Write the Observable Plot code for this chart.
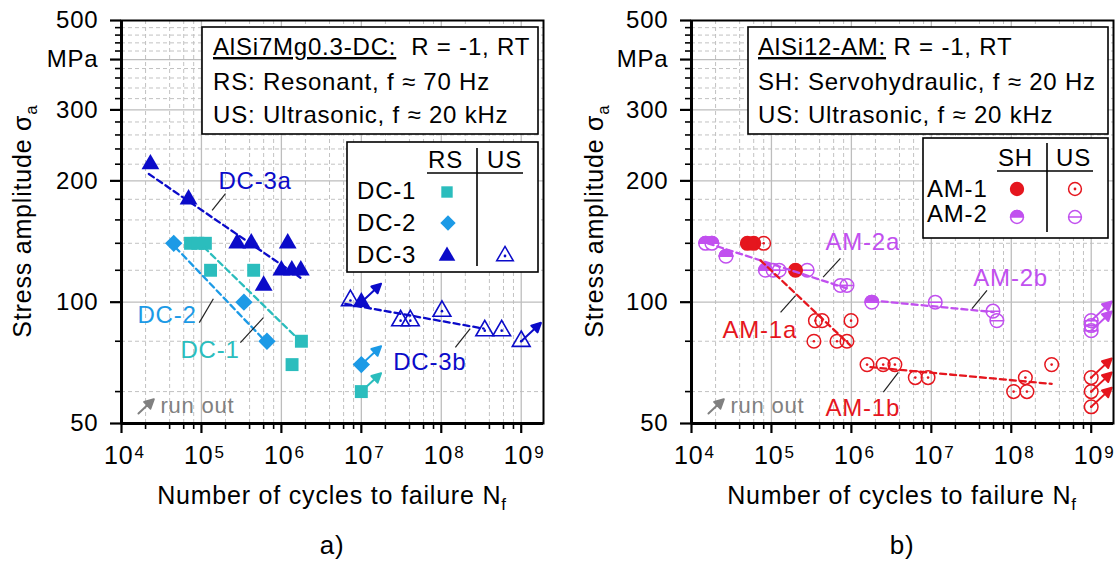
<!DOCTYPE html>
<html><head><meta charset="utf-8">
<script src="https://cdn.jsdelivr.net/npm/d3@7"></script>
<script src="https://cdn.jsdelivr.net/npm/@observablehq/plot@0.6"></script>
<style>
body{margin:0;background:#fff;}
#wrap{position:relative;width:1119px;height:573px;overflow:hidden;background:#fff;}
#wrap svg{position:absolute;top:0;}
</style></head><body><div id="wrap"></div>
<script>
// ---------- colours ----------
const TEAL = "#2bbdbd", AZURE = "#1c9ae6", BLUE = "#0b0bc9", RED = "#e5161e", PURPLE = "#c150ef", GRAY = "#808080";

// ---------- axis ticks ----------
const X_DOMAIN = [1e4, 1.9e9];
const Y_DOMAIN = [50, 500];
const DECADES = [1e4, 1e5, 1e6, 1e7, 1e8, 1e9];
const MINOR_MULT = [2, 4, 6, 8];
const Y_MAJOR = [50, 100, 200, 300, 400, 500];
const Y_GRID_SOLID = [100, 200, 300, 400];
const Y_MINOR = [60, 80, 120, 140, 160, 180, 220, 240, 260, 280, 320, 340, 360, 380, 420, 440, 460, 480];
const Y_LABELS = {400: "MPa"};

// ---------- a) AlSi7Mg0.3-DC ----------
const DC1_RS = [{N:7.3e4,s:140},{N:9.0e4,s:140},{N:1.12e5,s:140},{N:1.3e5,s:120},{N:4.5e5,s:120},{N:1.36e6,s:70},{N:1.78e6,s:80}];
const DC1_RS_RUNOUT = [{N:1e7,s:60}];
const DC2_RS = [{N:4.5e4,s:140},{N:3.4e5,s:100},{N:6.6e5,s:80}];
const DC2_RS_RUNOUT = [{N:1e7,s:70}];
const DC3_RS = [{N:2.3e4,s:220},{N:6.9e4,s:180},{N:2.8e5,s:140},{N:4.2e5,s:140},{N:1.2e6,s:140},{N:6.0e5,s:110},{N:1.0e6,s:120},{N:1.35e6,s:120},{N:1.75e6,s:120}];
const DC3_RS_RUNOUT = [{N:1e7,s:100}];
const DC3_US = [{N:7.3e6,s:101},{N:3.1e7,s:90},{N:4.1e7,s:90},{N:1.02e8,s:95},{N:3.5e8,s:85},{N:5.7e8,s:85}];
const DC3_US_RUNOUT = [{N:1e9,s:80}];
const FIT_DC3a = [{N:2.2e4,s:208},{N:1.73e6,s:115}];
const FIT_DC2 = [{N:4.7e4,s:137},{N:6.3e5,s:80}];
const FIT_DC1 = [{N:1.07e5,s:137},{N:1.73e6,s:80}];
const FIT_DC3b = [{N:6.3e6,s:99},{N:3.4e8,s:86}];
const LABELS_A = [
  {t:"DC-3a", N:1.63e5, s:191, c:BLUE},
  {t:"DC-2", N:1.58e4, s:89, c:AZURE},
  {t:"DC-1", N:5.46e4, s:72.5, c:TEAL},
  {t:"DC-3b", N:2.5e7, s:67.7, c:BLUE}
];
const LEADERS_A = [
  {N1:2.0e5,s1:186,N2:1.36e5,s2:169},
  {N1:9.4e4,s1:89,N2:1.41e5,s2:102},
  {N1:3.07e5,s1:79.4,N2:5.96e5,s2:91.6},
  {N1:1.5e8,s1:77.2,N2:2.3e8,s2:86}
];

// ---------- b) AlSi12-AM ----------
const AM1_SH = [{N:5.0e4,s:140},{N:6.0e4,s:140},{N:2.0e5,s:120}];
const AM1_US = [{N:8.0e4,s:140},{N:3.4e5,s:80},{N:3.55e5,s:90},{N:4.3e5,s:90},{N:6.6e5,s:80},{N:8.8e5,s:80},{N:9.9e5,s:90},{N:1.57e6,s:70},{N:2.5e6,s:70},{N:3.5e6,s:70},{N:6.3e6,s:65},{N:9.1e6,s:65},{N:1.07e8,s:60},{N:1.5e8,s:65},{N:1.57e8,s:60},{N:3.2e8,s:70}];
const AM1_US_RUNOUT = [{N:1e9,s:65},{N:1e9,s:60},{N:1e9,s:55}];
const AM2_SH = [{N:1.5e4,s:140},{N:1.8e4,s:140},{N:2.7e4,s:130},{N:8.4e4,s:120},{N:1.8e6,s:100}];
const AM2_US = [{N:1.05e5,s:120},{N:1.25e5,s:120},{N:2.8e5,s:120},{N:7.3e5,s:110},{N:8.8e5,s:110},{N:1.12e7,s:100},{N:5.9e7,s:95},{N:6.6e7,s:90}];
const AM2_US_RUNOUT = [{N:1e9,s:90},{N:1e9,s:87.5},{N:1e9,s:85}];
const AM2_US_ARROWS = [{N:1e9,s:90},{N:1e9,s:85}];
const FIT_AM1a = [{N:7.3e4,s:127},{N:9.8e5,s:78}];
const FIT_AM1b = [{N:1.73e6,s:69},{N:3.2e8,s:62.7}];
const FIT_AM2a = [{N:1.6e4,s:140},{N:9.0e5,s:108}];
const FIT_AM2b = [{N:1.8e6,s:101},{N:6.0e7,s:94.5}];
const LABELS_B = [
  {t:"AM-2a", N:4.73e5, s:135, c:PURPLE},
  {t:"AM-1a", N:2.44e4, s:81.3, c:RED},
  {t:"AM-2b", N:3.35e7, s:110, c:PURPLE},
  {t:"AM-1b", N:4.73e5, s:52.3, c:RED}
];
const LEADERS_B = [
  {N1:7.29e5,s1:128.4,N2:4.43e5,s2:115.4},
  {N1:1.3e5,s1:94.3,N2:2e5,s2:103.8},
  {N1:4.97e7,s1:107,N2:3.23e7,s2:96.4},
  {N1:3.87e6,s1:67,N2:2.51e6,s2:59.8}
];
const RUNOUT_KEY = [{t:"run out", N:3.07e4, s:53, aN:1.63e4, aS:52.95}];

// ---------- shapes ----------
const arrowShape = {draw(ctx, l) { const h = 9, w = 4.6; ctx.moveTo(0, 0); ctx.lineTo(0, -l + h); ctx.moveTo(0, -l); ctx.lineTo(-w, -l + h); ctx.lineTo(w, -l + h); ctx.closePath(); }};
const halfTop = {draw(ctx, size) { const r = Math.sqrt(size / Math.PI); ctx.moveTo(-r, 0); ctx.arc(0, 0, r, Math.PI, 2 * Math.PI); ctx.closePath(); }};
const thetaCircle = {draw(ctx, size) { const r = Math.sqrt(size / Math.PI); ctx.moveTo(r, 0); ctx.arc(0, 0, r, 0, 2 * Math.PI); ctx.moveTo(-r, 0); ctx.lineTo(r, 0); }};

const FONT = "'Liberation Sans', Arial, sans-serif";
const minorX = DECADES.flatMap(d => MINOR_MULT.map(m => m * d)).filter(v => v < X_DOMAIN[1]);
const xy = {x: "N", y: "s"};

function runout(data, color, length = 27) {
  return Plot.vector(data, {...xy, rotate: 47, length, anchor: "start", shape: arrowShape, stroke: color, fill: color, strokeWidth: 2});
}
function fit(data, color) {
  return Plot.line(data, {...xy, stroke: color, strokeWidth: 2.3, strokeDasharray: "6,4"});
}
function labelMarks(labels, leaders) {
  return [
    Plot.link(leaders, {x1: "N1", y1: "s1", x2: "N2", y2: "s2", stroke: "#222", strokeWidth: 1.2}),
    ...labels.map(l => Plot.text([l], {...xy, text: "t", fill: l.c, textAnchor: "start", lineAnchor: "bottom", fontSize: 24}))
  ];
}
function runoutKey() {
  return [
    Plot.vector(RUNOUT_KEY, {x: "aN", y: "aS", rotate: 47, length: 21, anchor: "start", shape: arrowShape, stroke: GRAY, fill: GRAY, strokeWidth: 2}),
    Plot.text(RUNOUT_KEY, {...xy, text: "t", fill: GRAY, textAnchor: "start", lineAnchor: "bottom", fontSize: 22})
  ];
}

function panel(width, marginLeft, dataMarks) {
  return Plot.plot({
    width, height: 573, marginTop: 20, marginBottom: 150, marginLeft, marginRight: width - marginLeft - 422,
    x: {type: "log", domain: X_DOMAIN, label: null},
    y: {type: "log", domain: Y_DOMAIN, label: null},
    style: {fontFamily: FONT, fontSize: "24px", letterSpacing: "0.8px", background: "transparent", color: "black", overflow: "visible"},
    marks: [
      Plot.gridX(minorX, {stroke: "#c2c2c2", strokeOpacity: 1, strokeDasharray: "4,3"}),
      Plot.gridY(Y_MINOR, {stroke: "#c2c2c2", strokeOpacity: 1, strokeDasharray: "4,3"}),
      Plot.gridX(DECADES, {stroke: "#bdbdbd", strokeOpacity: 1, strokeWidth: 1.3}),
      Plot.gridY(Y_GRID_SOLID, {stroke: "#bdbdbd", strokeOpacity: 1, strokeWidth: 1.3}),
      ...dataMarks,
      Plot.frame({stroke: "black", strokeWidth: 2}),
      Plot.ruleX([X_DOMAIN[0]], {stroke: "black", strokeWidth: 3}),
      Plot.ruleY([Y_DOMAIN[0]], {stroke: "black", strokeWidth: 3}),
      Plot.axisX(DECADES, {tickSize: 10, strokeWidth: 2.2, tickFormat: () => ""}),
      Plot.axisX(minorX, {tickSize: 6, strokeWidth: 1.6, tickFormat: () => ""}),
      Plot.axisY(Y_MAJOR, {tickSize: 11, strokeWidth: 2.2, tickPadding: 12, fontSize: 24, tickFormat: d => Y_LABELS[d] ?? String(d)}),
      Plot.axisY(Y_MINOR, {tickSize: 6, strokeWidth: 1.6, tickFormat: () => ""}),
      Plot.text(DECADES, {x: d => d, frameAnchor: "bottom", text: () => "10", dy: 40, dx: 12, textAnchor: "end", lineAnchor: "bottom", fontSize: 25}),
      Plot.text(DECADES, {x: d => d, frameAnchor: "bottom", text: d => String(Math.round(Math.log10(d))), dy: 34, dx: 13, textAnchor: "start", lineAnchor: "bottom", fontSize: 17})
    ]
  });
}

// ---------- build panel a ----------
const plotA = panel(560, 121, [
  runout(DC1_RS_RUNOUT, TEAL), runout(DC2_RS_RUNOUT, AZURE), runout(DC3_RS_RUNOUT, BLUE), runout(DC3_US_RUNOUT, BLUE),
  Plot.dot([...DC1_RS, ...DC1_RS_RUNOUT], {...xy, symbol: "square", r: 7.3, fill: TEAL, stroke: "none"}),
  Plot.dot([...DC2_RS, ...DC2_RS_RUNOUT], {...xy, symbol: "diamond2", r: 7.8, fill: AZURE, stroke: "none"}),
  Plot.dot([...DC3_US, ...DC3_US_RUNOUT], {...xy, symbol: "triangle", r: 6.6, fill: "none", stroke: BLUE, strokeWidth: 1.6}),
  Plot.dot([...DC3_US, ...DC3_US_RUNOUT], {...xy, r: 1.3, fill: BLUE, stroke: "none"}),
  Plot.dot([...DC3_RS, ...DC3_RS_RUNOUT], {...xy, symbol: "triangle", r: 6.6, fill: BLUE, stroke: "none"}),
  fit(FIT_DC3a, BLUE), fit(FIT_DC2, AZURE), fit(FIT_DC1, TEAL), fit(FIT_DC3b, BLUE),
  ...labelMarks(LABELS_A, LEADERS_A),
  ...runoutKey()
]);

// ---------- build panel b ----------
const plotB = panel(559, 131, [
  runout(AM1_US_RUNOUT, RED, 28), runout(AM2_US_ARROWS, PURPLE, 28),
  Plot.dot([...AM2_SH], {...xy, r: 6.8, fill: "white", stroke: PURPLE, strokeWidth: 1.5}),
  Plot.dot([...AM2_SH], {...xy, symbol: halfTop, r: 6.8, fill: PURPLE, stroke: PURPLE, strokeWidth: 1.5}),
  Plot.dot([...AM2_US, ...AM2_US_RUNOUT], {...xy, symbol: thetaCircle, r: 6.8, fill: "none", stroke: PURPLE, strokeWidth: 1.5}),
  Plot.dot(AM1_SH, {...xy, r: 6.8, fill: RED, stroke: RED, strokeWidth: 1.5}),
  Plot.dot([...AM1_US, ...AM1_US_RUNOUT], {...xy, r: 6.8, fill: "none", stroke: RED, strokeWidth: 1.5}),
  Plot.dot([...AM1_US, ...AM1_US_RUNOUT], {...xy, r: 1.3, fill: RED, stroke: "none"}),
  fit(FIT_AM2a, PURPLE), fit(FIT_AM2b, PURPLE), fit(FIT_AM1a, RED), fit(FIT_AM1b, RED),
  ...labelMarks(LABELS_B, LEADERS_B),
  ...runoutKey()
]);

const wrap = document.getElementById("wrap");
plotA.style.left = "0px"; plotB.style.left = "560px";
wrap.appendChild(plotA); wrap.appendChild(plotB);

// ---------- annotations (boxes, legends, titles) ----------
function txt(g, x, y, segs, {size = 24, fill = "black", anchor = "start", rotate = 0} = {}) {
  const t = g.append("text").attr("x", x).attr("y", y).attr("font-size", size).attr("fill", fill)
    .attr("text-anchor", anchor).style("white-space", "pre").style("font-family", FONT);
  if (rotate) t.attr("transform", `rotate(${rotate},${x},${y})`);
  for (const s of [].concat(segs)) {
    const seg = typeof s === "string" ? {t: s} : s;
    const ts = t.append("tspan").text(seg.t);
    if (seg.u) ts.attr("text-decoration", "underline");
    if (seg.sub) ts.attr("font-size", Math.round(size * 0.68)).attr("dy", 6);
  }
  return t;
}
function rect(g, x1, y1, x2, y2) {
  g.append("rect").attr("x", x1).attr("y", y1).attr("width", x2 - x1).attr("height", y2 - y1)
    .attr("fill", "white").attr("stroke", "black").attr("stroke-width", 1.6);
}
function line(g, x1, y1, x2, y2, w = 1.6) {
  g.append("line").attr("x1", x1).attr("y1", y1).attr("x2", x2).attr("y2", y2).attr("stroke", "black").attr("stroke-width", w);
}
function sym(g, x, y, type, size, fill, stroke, sw = 1.5) {
  g.append("path").attr("transform", `translate(${x},${y})`).attr("d", d3.symbol(type, size)())
    .attr("fill", fill).attr("stroke", stroke).attr("stroke-width", sw);
}

// panel a overlay
{
  const g = d3.select(plotA).append("g");
  rect(g, 202, 27, 538, 134);
  txt(g, 213, 55, [{t: "AlSi7Mg0.3-DC:", u: true}, "  R = -1, RT"]);
  txt(g, 213, 90, "RS: Resonant, f \u2248 70 Hz");
  txt(g, 213, 123, "US: Ultrasonic, f \u2248 20 kHz");
  rect(g, 347, 142, 538, 272);
  txt(g, 428, 168, "RS"); txt(g, 487, 168, "US");
  line(g, 427, 173, 523, 173); line(g, 477, 148, 477, 266);
  txt(g, 357, 199, "DC-1"); txt(g, 357, 231, "DC-2"); txt(g, 357, 263, "DC-3");
  sym(g, 447, 192, d3.symbolSquare, 130, TEAL, "none");
  sym(g, 448, 223, d3.symbolDiamond2, 150, AZURE, "none");
  sym(g, 447, 256, d3.symbolTriangle, 120, BLUE, "none");
  sym(g, 505, 256, d3.symbolTriangle, 120, "none", BLUE, 1.5);
  sym(g, 505, 256, d3.symbolCircle, 6, BLUE, "none");
  txt(g, 31, 221, ["Stress amplitude \u03c3", {t: "a", sub: true}], {anchor: "middle", rotate: -90, size: 25});
  txt(g, 332, 504, ["Number of cycles to failure N", {t: "f", sub: true}], {anchor: "middle", size: 25});
  txt(g, 332, 554, "a)", {anchor: "middle", size: 26});
}
// panel b overlay
{
  const g = d3.select(plotB).append("g");
  const o = 560;
  rect(g, 748 - o, 27, 1108 - o, 134);
  txt(g, 758 - o, 55, [{t: "AlSi12-AM:", u: true}, " R = -1, RT"]);
  txt(g, 758 - o, 90, "SH: Servohydraulic, f \u2248 20 Hz");
  txt(g, 758 - o, 123, "US: Ultrasonic, f \u2248 20 kHz");
  rect(g, 923 - o, 138, 1108 - o, 238);
  txt(g, 998 - o, 166, "SH"); txt(g, 1056 - o, 166, "US");
  line(g, 997 - o, 171, 1093 - o, 171); line(g, 1047 - o, 143, 1047 - o, 232);
  txt(g, 927 - o, 197, "AM-1"); txt(g, 927 - o, 222, "AM-2");
  sym(g, 1017 - o, 189, d3.symbolCircle, 130, RED, RED);
  sym(g, 1075 - o, 189, d3.symbolCircle, 130, "none", RED);
  sym(g, 1075 - o, 189, d3.symbolCircle, 6, RED, "none");
  sym(g, 1017 - o, 217, d3.symbolCircle, 130, "white", PURPLE);
  sym(g, 1017 - o, 217, halfTop, 130, PURPLE, PURPLE);
  sym(g, 1075 - o, 217, thetaCircle, 130, "none", PURPLE);
  txt(g, 603 - o, 221, ["Stress amplitude \u03c3", {t: "a", sub: true}], {anchor: "middle", rotate: -90, size: 25});
  txt(g, 902 - o, 504, ["Number of cycles to failure N", {t: "f", sub: true}], {anchor: "middle", size: 25});
  txt(g, 902 - o, 554, "b)", {anchor: "middle", size: 26});
}
</script></body></html>
